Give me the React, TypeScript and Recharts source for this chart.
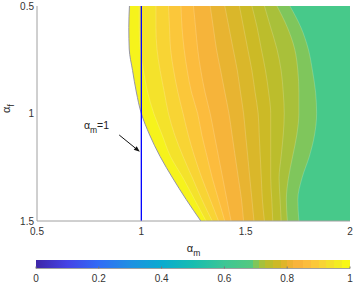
import React from "react";
import {
  ComposedChart,
  Area,
  Line,
  XAxis,
  YAxis,
  CartesianGrid,
  ReferenceLine,
  ReferenceDot,
  ReferenceArea,
} from "recharts";

// rows of the contour map (alpha_f), top to bottom
const alphaF = [0.5, 0.6, 0.7, 0.8, 0.9, 1.0, 1.1, 1.2, 1.3, 1.4, 1.5];

// contour lines: alpha_m at each alpha_f row, left (value 1) to right
const edge = [0.943, 0.94, 0.942, 0.958, 0.976, 1.0, 1.04, 1.09, 1.15, 1.215, 1.285];
const lvl1 = [0.99, 0.99, 0.995, 1.01, 1.03, 1.06, 1.1, 1.14, 1.2, 1.255, 1.31];
const lvl2 = [1.07, 1.07, 1.075, 1.09, 1.11, 1.13, 1.16, 1.2, 1.245, 1.29, 1.34];
const lvl3 = [1.13, 1.135, 1.14, 1.155, 1.175, 1.2, 1.225, 1.255, 1.29, 1.33, 1.37];
const lvl4 = [1.19, 1.195, 1.205, 1.22, 1.24, 1.27, 1.29, 1.315, 1.34, 1.37, 1.4];
const lvl5 = [1.25, 1.26, 1.27, 1.285, 1.305, 1.33, 1.35, 1.37, 1.39, 1.41, 1.43];
const lvl6 = [1.33, 1.345, 1.36, 1.38, 1.4, 1.42, 1.435, 1.45, 1.465, 1.48, 1.49];
const lvl7 = [1.4, 1.42, 1.44, 1.46, 1.475, 1.49, 1.5, 1.51, 1.52, 1.53, 1.54];
const lvl8 = [1.47, 1.49, 1.51, 1.53, 1.545, 1.56, 1.565, 1.57, 1.575, 1.58, 1.59];
const lvl9 = [1.53, 1.555, 1.575, 1.595, 1.61, 1.62, 1.62, 1.62, 1.62, 1.625, 1.63];
const lvl10 = [1.59, 1.62, 1.65, 1.67, 1.68, 1.685, 1.68, 1.67, 1.66, 1.665, 1.67];
const lvl11 = [1.65, 1.7, 1.735, 1.75, 1.755, 1.755, 1.745, 1.725, 1.705, 1.695, 1.7];
const lvl12 = [1.712, 1.765, 1.8, 1.82, 1.835, 1.84, 1.83, 1.805, 1.77, 1.75, 1.755];

const xTicks = [0.5, 1, 1.5, 2];
const yTicks = [0.5, 1, 1.5];
const cbTicks = [0, 0.2, 0.4, 0.6, 0.8, 1];
const cbRange = [0, 1];

// annotation "alpha_m = 1"
const markLine = 1;
const noteAt = { x: 0.725, y: 1.07 };
const arrowFrom = { x: 0.894, y: 1.1 };
const arrowTo = { x: 0.993, y: 1.178 };

const contours = [edge, lvl1, lvl2, lvl3, lvl4, lvl5, lvl6, lvl7, lvl8, lvl9, lvl10, lvl11, lvl12];
// fill of the band on the left side of each contour line
const bandFill = [
  "#ffffff", "#f6f31c", "#f4e22b", "#f8d434", "#fbc73a", "#fcbc3d", "#f6b43a",
  "#e8b431", "#dab72a", "#ccba26", "#bcbd2c", "#a9c03a", "#7fc65c",
];
const rightFill = "#47c98a";

const parulaStops: [number, string][] = [
  [0, "#3e26a8"], [0.1, "#4543e6"], [0.2, "#316cf6"], [0.3, "#1f90e2"],
  [0.4, "#0aabcf"], [0.5, "#18bdb0"], [0.6, "#3ec695"], [0.69, "#55c97f"],
  [0.69, "#80c65a"], [0.71, "#80c65a"], [0.71, "#a6c13b"], [0.73, "#a6c13b"],
  [0.73, "#bbbd2c"], [0.755, "#bbbd2c"], [0.755, "#cdb926"], [0.78, "#cdb926"],
  [0.78, "#dfb52a"], [0.8, "#dfb52a"], [0.8, "#eeb233"], [0.82, "#eeb233"],
  [0.82, "#f9b43b"], [0.85, "#f9b43b"], [0.85, "#fcbd3d"], [0.875, "#fcbd3d"],
  [0.875, "#fbc83a"], [0.9, "#fbc83a"], [0.9, "#f8d434"], [0.925, "#f8d434"],
  [0.925, "#f4e02c"], [0.95, "#f4e02c"], [0.95, "#f3ec23"], [0.975, "#f3ec23"],
  [0.975, "#f8f815"], [1, "#f8f815"],
];

const rows = alphaF.map((af, i) => {
  const r: Record<string, number> = { af };
  contours.forEach((c, k) => (r["b" + k] = c[i]));
  return r;
});
const cbRows = cbRange.map((v) => ({ v, w: v }));

const font = "'Liberation Sans', Arial, Helvetica, sans-serif";
const txt = "#333333";
const boxColor = "#a0a0a0";
const tickStyle = { fill: txt, fontSize: 10, fontFamily: font };

const Arrow = (p: any) => {
  const { x1, y1, x2, y2 } = p;
  const a = Math.atan2(y2 - y1, x2 - x1);
  const L = 6;
  const W = 2.3;
  const bx = x2 - L * Math.cos(a);
  const by = y2 - L * Math.sin(a);
  const pts = `${x2},${y2} ${bx - W * Math.sin(a)},${by + W * Math.cos(a)} ${bx + W * Math.sin(a)},${by - W * Math.cos(a)}`;
  return (
    <g>
      <line x1={x1} y1={y1} x2={bx} y2={by} stroke="#111" strokeWidth={1} />
      <polygon points={pts} fill="#111" />
    </g>
  );
};

const Note = (p: any) => (
  <text x={p.cx} y={p.cy} fontSize={10.5} fontFamily={font} fill="#222">
    α<tspan fontSize={8.5} dy={4}>m</tspan>
    <tspan dy={-4}>=1</tspan>
  </text>
);

const XLabel = (p: any) => {
  const { x, width } = p.viewBox;
  return (
    <text x={x + width / 2} y={251.5} textAnchor="middle" fontSize={11} fontFamily={font} fill="#222">
      α<tspan fontSize={8.5} dy={4}>m</tspan>
    </text>
  );
};

const YLabel = (p: any) => {
  const { y, height } = p.viewBox;
  const cx = 10;
  const cy = y + height / 2 - 5;
  return (
    <text x={cx} y={cy} textAnchor="middle" fontSize={11} fontFamily={font} fill="#222" transform={`rotate(-90, ${cx}, ${cy})`}>
      α<tspan fontSize={8.5} dy={3.5}>f</tspan>
    </text>
  );
};

export default function App() {
  return (
    <div style={{ position: "absolute", left: 0, top: 0, width: 354, height: 283, background: "#fff" }}>
      <ComposedChart
        width={354}
        height={260}
        layout="vertical"
        data={rows}
        margin={{ top: 6, right: 4, left: 0, bottom: 0 }}
      >
        <CartesianGrid fill={rightFill} horizontal={false} vertical={false} stroke="none" />
        <XAxis
          type="number"
          domain={[0.5, 2]}
          ticks={xTicks}
          tick={tickStyle}
          tickLine={false}
          tickSize={0}
          tickMargin={7}
          height={39}
          axisLine={{ stroke: boxColor }}
          label={<XLabel />}
        />
        <YAxis
          type="number"
          dataKey="af"
          domain={[0.5, 1.5]}
          ticks={yTicks}
          tick={tickStyle}
          tickLine={false}
          tickSize={0}
          tickMargin={3}
          width={37}
          axisLine={{ stroke: boxColor }}
          label={<YLabel />}
        />
        <XAxis xAxisId="top" orientation="top" type="number" domain={[0.5, 2]} tick={false} tickLine={false} height={0} axisLine={{ stroke: boxColor }} />
        <YAxis yAxisId="right" orientation="right" type="number" domain={[0.5, 1.5]} tick={false} tickLine={false} width={0} axisLine={{ stroke: boxColor }} />
        {contours
          .map((_, k) => k)
          .reverse()
          .map((k) => (
            <Area
              key={k}
              dataKey={"b" + k}
              type="monotone"
              fill={bandFill[k]}
              fillOpacity={1}
              stroke={k === 0 ? "#8a8aa8" : "#ffffff"}
              strokeOpacity={k === 0 ? 1 : 0.3}
              strokeWidth={k === 0 ? 0.9 : 0.6}
              dot={false}
              activeDot={false}
              isAnimationActive={false}
            />
          ))}
        <ReferenceLine x={markLine} stroke="#0000ff" strokeWidth={1.3} />
        <ReferenceLine segment={[arrowFrom, arrowTo]} shape={<Arrow />} />
        <ReferenceDot x={noteAt.x} y={noteAt.y} r={0} shape={<Note />} />
      </ComposedChart>

      <div style={{ position: "absolute", left: 0, top: 252 }}>
        <ComposedChart width={354} height={31} data={cbRows} margin={{ top: 8, right: 4, left: 36, bottom: 0 }}>
          <defs>
            <linearGradient id="parula" x1="0" y1="0" x2="1" y2="0">
              {parulaStops.map(([o, c], i) => (
                <stop key={i} offset={o} stopColor={c} />
              ))}
            </linearGradient>
          </defs>
          <XAxis
            dataKey="v"
            type="number"
            domain={[0, 1]}
            ticks={cbTicks}
            tick={tickStyle}
            tickLine={{ stroke: "#777" }}
            tickSize={-2}
            tickMargin={8}
            height={14.5}
            axisLine={{ stroke: boxColor }}
          />
          <XAxis xAxisId="top" dataKey="v" orientation="top" type="number" domain={[0, 1]} ticks={cbTicks} tick={false} tickLine={{ stroke: "#777" }} tickSize={-2} height={0} axisLine={{ stroke: boxColor }} />
          <YAxis type="number" domain={[0, 1]} tick={false} tickLine={false} width={0} axisLine={{ stroke: boxColor }} />
          <YAxis yAxisId="right" orientation="right" type="number" domain={[0, 1]} tick={false} tickLine={false} width={0} axisLine={{ stroke: boxColor }} />
          <ReferenceArea x1={0} x2={1} y1={0} y2={1} fill="url(#parula)" fillOpacity={1} stroke="none" />
          <Line dataKey="w" stroke="none" dot={false} activeDot={false} isAnimationActive={false} />
        </ComposedChart>
      </div>
    </div>
  );
}
